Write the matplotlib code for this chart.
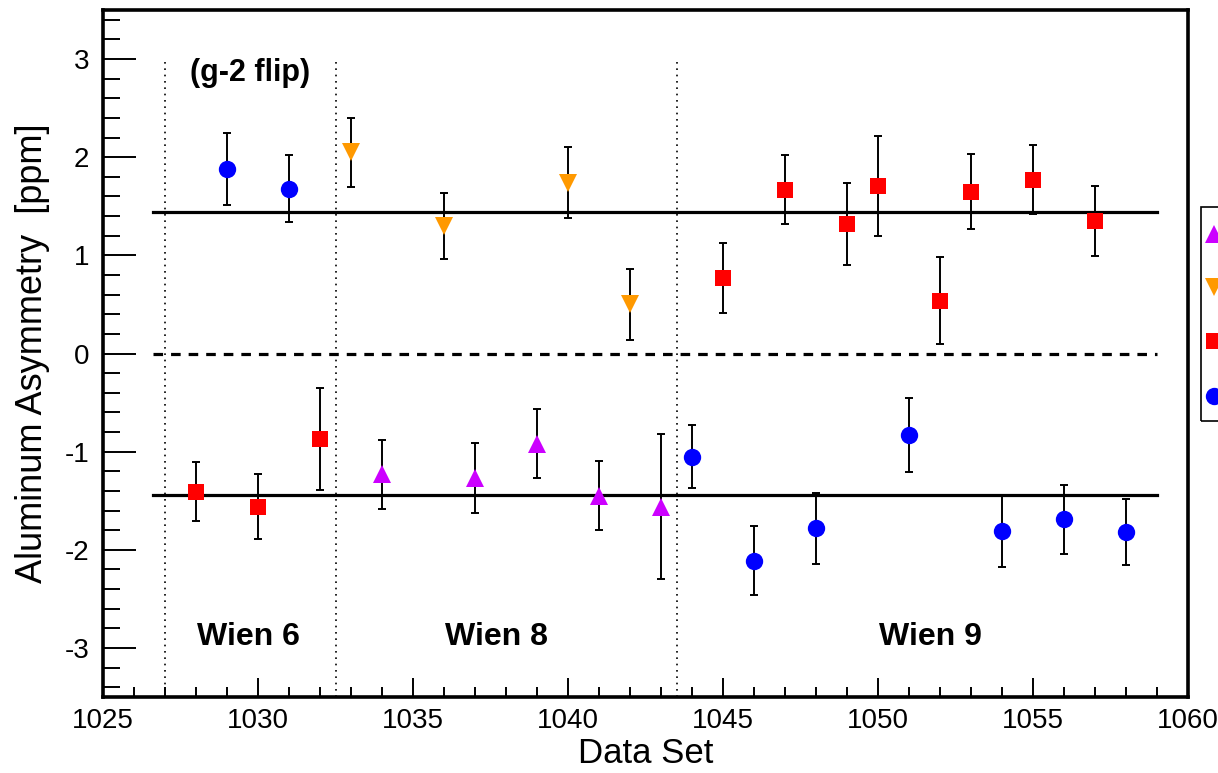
import numpy as np
import matplotlib
matplotlib.use("Agg")
import matplotlib.pyplot as plt
from matplotlib.lines import Line2D
from matplotlib.patches import Rectangle
from matplotlib.ticker import MultipleLocator

plt.rcParams['font.family'] = ['Liberation Sans', 'DejaVu Sans']
plt.rcParams['axes.unicode_minus'] = False

# magenta up-triangles
mag_x = [1034, 1037, 1039, 1041, 1043]
mag_y = [-1.23, -1.27, -0.92, -1.45, -1.56]
mag_e = [0.35, 0.36, 0.35, 0.35, 0.74]

# orange down-triangles
org_x = [1033, 1036, 1040, 1042]
org_y = [2.05, 1.30, 1.74, 0.50]
org_e = [0.35, 0.34, 0.36, 0.36]

# red squares
red_x = [1028, 1030, 1032, 1045, 1047, 1049, 1050, 1052, 1053, 1055, 1057]
red_y = [-1.41, -1.56, -0.87, 0.77, 1.67, 1.32, 1.71, 0.54, 1.65, 1.77, 1.35]
red_e = [0.30, 0.33, 0.52, 0.36, 0.35, 0.42, 0.51, 0.44, 0.38, 0.35, 0.36]

# blue circles
blu_x = [1029, 1031, 1044, 1046, 1048, 1051, 1054, 1056, 1058]
blu_y = [1.88, 1.68, -1.05, -2.11, -1.78, -0.83, -1.81, -1.69, -1.82]
blu_e = [0.37, 0.34, 0.32, 0.35, 0.36, 0.38, 0.37, 0.35, 0.34]

fit_level = 1.44
wien_bounds = [1027, 1032.5, 1043.5]
labels = ["Wien 6", "Wien 8", "Wien 9"]
label_x = [1029.7, 1037.7, 1051.7]

series = [
    (mag_x, mag_y, mag_e, '^', '#cc00ff', 13.5),
    (org_x, org_y, org_e, 'v', '#ff9900', 13.5),
    (red_x, red_y, red_e, 's', '#ff0000', 12),
    (blu_x, blu_y, blu_e, 'o', '#0000ff', 12.5),
]

fig = plt.figure(figsize=(12.18, 7.73), dpi=100)
ax = fig.add_axes([103/1218, 1-697/773, 1085/1218, 687/773])

ax.set_xlim(1025, 1060)
ax.set_ylim(-3.5, 3.5)

# fit lines and zero line
ax.plot([1026.6, 1059], [fit_level, fit_level], color='black', lw=2.3, zorder=2)
ax.plot([1026.6, 1059], [-fit_level, -fit_level], color='black', lw=2.3, zorder=2)
ax.plot([1026.6, 1059], [0, 0], color='black', lw=2.3, ls=(0, (3, 2.5)), zorder=2)

for xb in wien_bounds:
    ax.plot([xb, xb], [-3.5, 2.98], color='black', lw=1.2, ls=(0, (1, 2.8)), zorder=1)

for x, y, e, m, c, ms in series:
    ax.errorbar(x, y, yerr=e, fmt='none', ecolor='black', elinewidth=1.4,
                capsize=3, capthick=1.4, zorder=3)
    ax.plot(x, y, m, color=c, markersize=ms, markeredgewidth=0, zorder=4)

for t, xt in zip(labels, label_x):
    ax.text(xt, -2.89, t, ha='center', va='center', fontsize=23, fontweight='bold')
ax.text(1029.75, 2.86, "(g-2 flip)", ha='center', va='center', fontsize=22, fontweight='bold')

ax.xaxis.set_major_locator(MultipleLocator(5))
ax.xaxis.set_minor_locator(MultipleLocator(1))
ax.yaxis.set_major_locator(MultipleLocator(1))
ax.yaxis.set_minor_locator(MultipleLocator(0.2))
ax.tick_params(axis='both', which='both', direction='in', top=False, right=False,
               width=1.4, labelsize=20)
ax.tick_params(axis='y', which='major', length=24, pad=10)
ax.tick_params(axis='y', which='minor', length=12)
ax.tick_params(axis='x', which='major', length=14, pad=8)
ax.tick_params(axis='x', which='minor', length=7)
for sp in ax.spines.values():
    sp.set_linewidth(2.6)

ax.set_xlabel("Data Set", fontsize=25, labelpad=2)
ax.set_ylabel("Aluminum Asymmetry  [ppm]", fontsize=26, labelpad=10)

# legend box, cut by the right edge of the picture
W, H = 1218.0, 773.0
fig.add_artist(Rectangle((1201/W, 1-421/H), 60/W, 214/H, transform=fig.transFigure,
                         fill=False, edgecolor='black', lw=1.2))
leg_y = [234, 287, 341, 396]
for (x, y, e, m, c, ms), ly in zip(series, leg_y):
    fig.add_artist(Line2D([1214/W], [1-ly/H], marker=m, color=c, markersize=ms,
                          markeredgewidth=0, transform=fig.transFigure))

fig.savefig("out.png", dpi=100, facecolor='white')
